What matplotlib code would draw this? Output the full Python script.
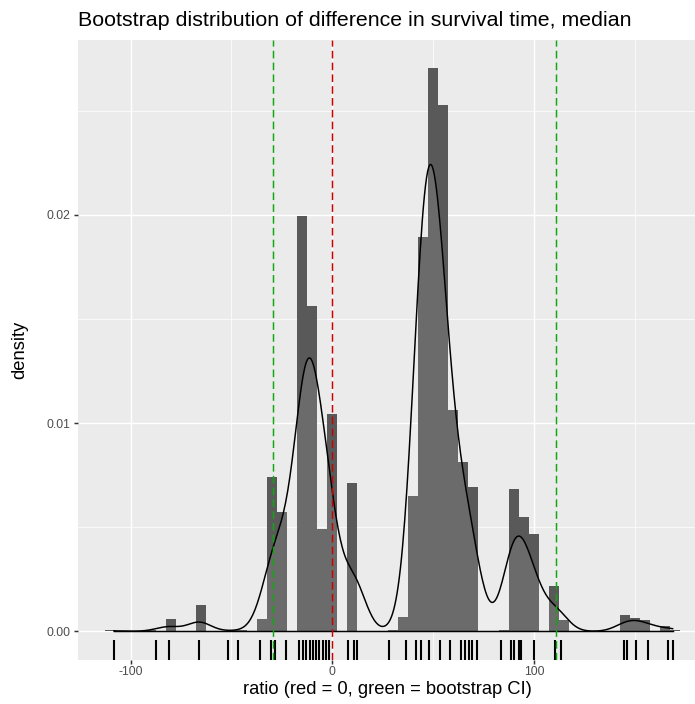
import numpy as np
import matplotlib
matplotlib.use("Agg")
import matplotlib.pyplot as plt
from matplotlib.transforms import blended_transform_factory

plt.rcParams["font.family"] = ["Liberation Sans", "DejaVu Sans"]
plt.rcParams["lines.scale_dashes"] = False

# Bootstrap replicates of the median difference: distinct values and how often each occurred
diff_values = [-108.3, -87.6, -81.2, -66.0, -51.9, -46.9, -35.9, -30.2, -28.2, -23.0,
               -16.3, -14.5, -12.8, -11.2, -9.6, -8.0, -6.5, -4.8, -3.3, -1.8,
               7.8, 10.6, 12.4, 27.9, 36.5, 41.4, 44.0, 47.8, 53.2, 58.4,
               63.7, 65.8, 67.8, 69.1, 71.9, 83.7, 88.4, 89.9, 92.6, 93.8,
               99.9, 110.4, 113.5, 144.6, 146.2, 150.6, 156.7, 166.6, 168.8]
diff_counts = [3, 2, 30, 63, 2, 2, 29, 225, 145, 285,
               275, 425, 295, 375, 250, 155, 75, 100, 70, 520,
               100, 150, 105, 2, 34, 323, 945, 1350, 1260, 530,
               225, 180, 125, 125, 95, 2, 175, 165, 138, 135,
               233, 108, 26, 20, 20, 32, 27, 13, 3]

null_value = 0.0
ci_bounds = [-29.3, 111.0]

binwidth = 5
x_ticks = [-100, 0, 100]
x_minor = [-150, -50, 50, 150]
y_ticks = [0.00, 0.01, 0.02]
y_minor = [0.005, 0.015, 0.025]
y_tick_labels = ["0.00", "0.01", "0.02"]

title = "Bootstrap distribution of difference in survival time, median"
x_title = "ratio (red = 0, green = bootstrap CI)"
y_title = "density"

values = np.asarray(diff_values, dtype=float)
counts = np.asarray(diff_counts, dtype=float)
n = counts.sum()
sample = np.repeat(values, np.asarray(diff_counts))

# Histogram on the density scale, bins centred on multiples of the bin width
lo = binwidth * np.floor(values.min() / binwidth + 0.5) - binwidth / 2
hi = binwidth * np.floor(values.max() / binwidth + 0.5) + binwidth / 2
edges = np.arange(lo, hi + binwidth / 2, binwidth)
heights, _ = np.histogram(values, bins=edges, weights=counts, density=True)
centers = (edges[:-1] + edges[1:]) / 2

# Gaussian kernel density with Silverman's rule-of-thumb bandwidth (nrd0)
mean = np.average(values, weights=counts)
sd = np.sqrt(np.sum(counts * (values - mean) ** 2) / (n - 1))
q25, q75 = np.percentile(sample, [25, 75])
bw = 0.9 * min(sd, (q75 - q25) / 1.34) * n ** (-0.2)
grid = np.linspace(values.min(), values.max(), 512)
z = (grid[:, None] - values[None, :]) / bw
dens = (counts[None, :] * np.exp(-0.5 * z ** 2)).sum(axis=1) / (n * bw * np.sqrt(2 * np.pi))

W, H = 695, 704
fig = plt.figure(figsize=(W / 100, H / 100), dpi=100)
left_px, right_px, top_px, bottom_px = 77.6, 695.0, 39.5, 659.5
ax = fig.add_axes([left_px / W, 1 - bottom_px / H,
                   (right_px - left_px) / W, (bottom_px - top_px) / H])
ax.set_facecolor("#EBEBEB")
for s in ax.spines.values():
    s.set_visible(False)

ax.set_xticks(x_ticks)
ax.set_xticklabels([str(t) for t in x_ticks])
ax.set_xticks(x_minor, minor=True)
ax.set_yticks(y_ticks)
ax.set_yticklabels(y_tick_labels)
ax.set_yticks(y_minor, minor=True)
ax.tick_params(which="major", length=2.75, width=1.07, color="#333333",
               labelcolor="#4D4D4D", labelsize=8.8, pad=2.2)
ax.tick_params(which="minor", length=0)
ax.set_axisbelow(True)
ax.grid(which="major", color="white", linewidth=1.07)
ax.grid(which="minor", color="white", linewidth=0.53)

ax.bar(centers, heights, width=binwidth, color="#595959", linewidth=0, zorder=2)
ax.fill_between(grid, dens, 0, color="white", alpha=0.11, linewidth=0, zorder=3)
ax.plot(grid, dens, color="black", linewidth=1.07, zorder=4)
ax.plot([grid[0], grid[-1]], [0, 0], color="black", linewidth=1.07, zorder=4)

rug_tf = blended_transform_factory(ax.transData, ax.transAxes)
ax.vlines(values, 0, 0.032, transform=rug_tf, color="black", linewidth=1.5, zorder=5)

dash = (0, (5.5, 3.0))
ax.axvline(null_value, color="#CD0000", linestyle=dash, linewidth=1.07, zorder=6)
for b in ci_bounds:
    ax.axvline(b, color="#10A810", linestyle=dash, linewidth=1.07, zorder=6)

ymax = heights.max()
ax.set_xlim(-126.3, 179.9)
ax.set_ylim(-0.05 * ymax, 1.05 * ymax)

fig.text(left_px / W, 1 - 25.5 / H, title, fontsize=15.4, ha="left", va="baseline")
fig.text(387 / W, 1 - 689 / H, x_title, fontsize=13.2, ha="center", va="center")
fig.text(20 / W, 1 - 349.5 / H, y_title, fontsize=13.2, rotation=90, ha="center", va="center")

fig.savefig("out.png", dpi=100)
